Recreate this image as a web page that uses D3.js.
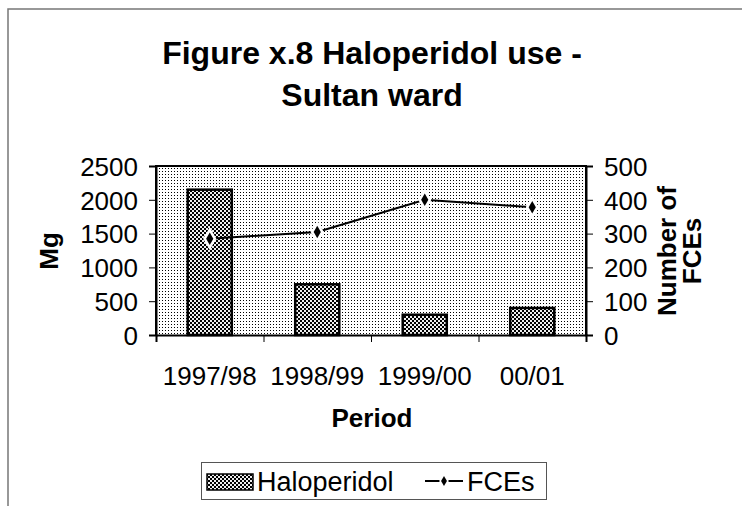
<!DOCTYPE html>
<html><head><meta charset="utf-8">
<script src="https://cdn.jsdelivr.net/npm/d3@7/dist/d3.min.js"></script>
<style>body{margin:0;background:#fff}svg{display:block;font-family:"Liberation Sans",Arial,sans-serif}</style>
</head><body><div id="chart"></div>
<script>
const categories = ["1997/98","1998/99","1999/00","00/01"];
const haloperidol = [2150, 750, 300, 400];
const fces = [285, 305, 400, 378];
const leftTicks = [0,500,1000,1500,2000,2500];
const rightTicks = [0,100,200,300,400,500];

const W=742,H=506;
const svg=d3.select("#chart").append("svg").attr("width",W).attr("height",H);
const defs=svg.append("defs");
const bgp=defs.append("pattern").attr("id","bgdots").attr("patternUnits","userSpaceOnUse").attr("width",3).attr("height",3);
bgp.append("rect").attr("width",3).attr("height",3).attr("fill","#fff");
bgp.append("rect").attr("width",1).attr("height",1).attr("fill","#000");
const bp=defs.append("pattern").attr("id","barpat").attr("patternUnits","userSpaceOnUse").attr("width",4).attr("height",4);
bp.append("rect").attr("width",4).attr("height",4).attr("fill","#eee");
bp.append("rect").attr("width",2).attr("height",2).attr("fill","#000");
bp.append("rect").attr("x",2).attr("y",2).attr("width",2).attr("height",2).attr("fill","#000");

// outer border
svg.append("path").attr("d","M8,"+H+"V9H"+W).attr("fill","none").attr("stroke","#777").attr("stroke-width",1.5);

const m={l:156,r:586,t:166,b:335};
const x=d3.scaleBand().domain(categories).range([m.l,m.r]).paddingInner(0.59).paddingOuter(0.295);
const xc=d3.scalePoint().domain(categories).range([m.l,m.r]).padding(0.5);
const yL=d3.scaleLinear().domain([0,2500]).range([m.b,m.t]);
const yR=d3.scaleLinear().domain([0,500]).range([m.b,m.t]);

svg.append("rect").attr("x",m.l).attr("y",m.t).attr("width",m.r-m.l).attr("height",m.b-m.t).attr("fill","url(#bgdots)");

svg.selectAll(".bar").data(haloperidol).enter().append("rect")
  .attr("x",(d,i)=>x(categories[i])).attr("y",d=>yL(d))
  .attr("width",x.bandwidth()).attr("height",d=>m.b-yL(d))
  .attr("fill","url(#barpat)").attr("stroke","#000").attr("stroke-width",2.5);

// plot border
svg.append("path").attr("d",`M${m.l},${m.b}V${m.t}H${m.r}V${m.b}`).attr("fill","none").attr("stroke","#000").attr("stroke-width",2);

const fs=26;
const fmt=d3.format("d");
const axL=svg.append("g").attr("transform",`translate(${m.l},0)`).call(d3.axisLeft(yL).tickValues(leftTicks).tickFormat(fmt).tickSize(7).tickPadding(11));
const axR=svg.append("g").attr("transform",`translate(${m.r},0)`).call(d3.axisRight(yR).tickValues(rightTicks).tickFormat(fmt).tickSize(7).tickPadding(11));
const bx=d3.scaleLinear().domain([0,4]).range([m.l,m.r]);
const axB=svg.append("g").attr("transform",`translate(0,${m.b})`).call(d3.axisBottom(bx).ticks(4).tickSize(7).tickFormat(""));
[axL,axR,axB].forEach(a=>{a.select(".domain").attr("stroke","#000").attr("stroke-width",2);a.selectAll("line").attr("stroke","#000").attr("stroke-width",1);a.selectAll("text").attr("font-size",fs).attr("font-family","Liberation Sans, Arial").attr("fill","#000");});
axL.selectAll("text").attr("dy","0.36em");axR.selectAll("text").attr("dy","0.36em");

svg.selectAll(".cat").data(categories).enter().append("text")
  .attr("x",d=>xc(d)).attr("y",385).attr("text-anchor","middle").attr("font-size",fs).text(d=>d);

// line
const line=d3.line().x((d,i)=>xc(categories[i])).y(d=>yR(d));
svg.append("path").datum(fces).attr("d",line).attr("fill","none").attr("stroke","#000").attr("stroke-width",2);
const dia=d3.symbol().type(d3.symbolDiamond);
svg.selectAll(".halo").data(fces).enter().append("path")
  .attr("d",dia.size(150)()).attr("transform",(d,i)=>`translate(${xc(categories[i])},${yR(d)})`).attr("fill","#fff");
svg.selectAll(".mk").data(fces).enter().append("path")
  .attr("d",dia.size(45)()).attr("transform",(d,i)=>`translate(${xc(categories[i])},${yR(d)})`).attr("fill","#000");

// titles
svg.append("text").attr("x",372).attr("y",64).attr("text-anchor","middle").attr("font-size",32).attr("font-weight","bold").text("Figure x.8 Haloperidol use -");
svg.append("text").attr("x",372).attr("y",106).attr("text-anchor","middle").attr("font-size",32).attr("font-weight","bold").text("Sultan ward");
svg.append("text").attr("transform","translate(58,251) rotate(-90)").attr("text-anchor","middle").attr("font-size",fs).attr("font-weight","bold").text("Mg");
svg.append("text").attr("transform","translate(676,251) rotate(-90)").attr("text-anchor","middle").attr("font-size",fs).attr("font-weight","bold").text("Number of");
svg.append("text").attr("transform","translate(701,251) rotate(-90)").attr("text-anchor","middle").attr("font-size",fs).attr("font-weight","bold").text("FCEs");
svg.append("text").attr("x",372).attr("y",427).attr("text-anchor","middle").attr("font-size",fs).attr("font-weight","bold").text("Period");

// legend
const lg=svg.append("g");
lg.append("rect").attr("x",201.5).attr("y",462.5).attr("width",345).attr("height",37).attr("fill","#fff").attr("stroke","#555").attr("stroke-width",1);
lg.append("rect").attr("x",207).attr("y",474).attr("width",46).attr("height",16).attr("fill","url(#barpat)").attr("stroke","#000").attr("stroke-width",1.5);
lg.append("text").attr("x",257).attr("y",491).attr("font-size",27).text("Haloperidol");
lg.append("line").attr("x1",425).attr("x2",463).attr("y1",481).attr("y2",481).attr("stroke","#000").attr("stroke-width",2);
lg.append("path").attr("d",dia.size(80)()).attr("transform","translate(444,481)").attr("fill","#fff");
lg.append("path").attr("d",dia.size(30)()).attr("transform","translate(444,481)").attr("fill","#000");
lg.append("text").attr("x",467).attr("y",491).attr("font-size",27).text("FCEs");
</script></body></html>
